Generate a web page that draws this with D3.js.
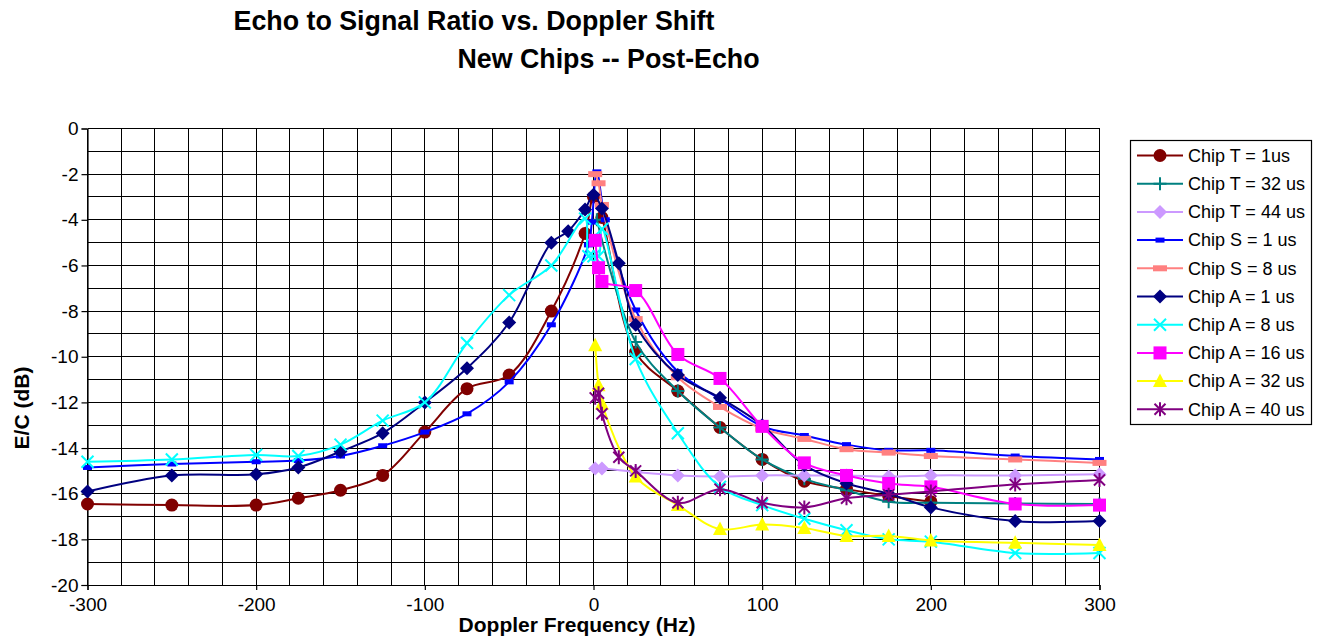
<!DOCTYPE html>
<html><head><meta charset="utf-8">
<script src="https://cdn.jsdelivr.net/npm/d3@7/dist/d3.min.js"></script>
<style>
body{margin:0;background:#fff}
svg{display:block}
text{font-family:"Liberation Sans",Arial,sans-serif}
</style>
</head><body>
<svg id="chart" width="1329" height="640"></svg>
<script>
// ---- data: [Doppler Hz, E/C dB] ----
const chipT1 = [[-300,-16.45],[-250,-16.5],[-200,-16.5],[-175,-16.2],[-150,-15.85],[-125,-15.2],[-100,-13.3],[-75,-11.4],[-50,-10.8],[-25,-8.0],[-5,-4.6],[0,-3.0],[5,-3.9],[25,-9.8],[50,-11.5],[75,-13.1],[100,-14.5],[125,-15.45],[150,-15.8],[175,-16.1],[200,-16.35]];
const chipT32 = [[2,-4.0],[25,-9.35],[50,-11.5],[75,-13.1],[100,-14.5],[125,-15.35],[150,-15.85],[175,-16.35],[200,-16.4],[250,-16.43],[300,-16.45]];
const chipT44 = [[1,-14.9],[5,-14.9],[25,-15.05],[50,-15.2],[75,-15.25],[100,-15.2],[125,-15.2],[150,-15.2],[175,-15.25],[200,-15.2],[250,-15.2],[300,-15.15]];
const chipS1 = [[-300,-14.85],[-250,-14.7],[-200,-14.6],[-175,-14.55],[-150,-14.35],[-125,-13.9],[-100,-13.3],[-75,-12.5],[-50,-11.1],[-25,-8.6],[-3,-5.1],[-1,-4.1],[2,-1.9],[7,-4.0],[25,-7.95],[50,-10.65],[75,-11.85],[100,-13.05],[125,-13.45],[150,-13.85],[175,-14.1],[200,-14.1],[250,-14.35],[300,-14.5]];
const chipS8 = [[1,-2.0],[3,-2.4],[5,-3.35],[25,-8.35],[50,-10.9],[75,-12.2],[100,-13.15],[125,-13.6],[150,-14.05],[175,-14.2],[200,-14.35],[250,-14.5],[300,-14.65]];
const chipA1 = [[-300,-15.9],[-250,-15.2],[-200,-15.15],[-175,-14.85],[-150,-14.15],[-125,-13.35],[-100,-12.0],[-75,-10.5],[-50,-8.5],[-25,-5.0],[-15,-4.5],[-5,-3.55],[0,-2.9],[5,-3.5],[15,-5.9],[25,-8.6],[50,-10.8],[75,-11.8],[100,-13.0],[125,-14.75],[150,-15.55],[175,-16.0],[200,-16.6],[250,-17.2],[300,-17.2]];
const chipA8 = [[-300,-14.6],[-250,-14.5],[-200,-14.3],[-175,-14.35],[-150,-13.85],[-125,-12.8],[-100,-12.0],[-75,-9.4],[-50,-7.3],[-25,-6.0],[-5,-3.95],[-3,-5.6],[0,-5.6],[3,-5.6],[5,-4.4],[25,-10.1],[50,-13.35],[75,-15.7],[100,-16.5],[125,-17.1],[150,-17.6],[175,-18.0],[200,-18.1],[250,-18.6],[300,-18.6]];
const chipA16 = [[1,-4.9],[3,-6.1],[5,-6.7],[25,-7.1],[50,-9.9],[75,-10.95],[100,-13.05],[125,-14.65],[150,-15.2],[175,-15.55],[200,-15.7],[250,-16.45],[300,-16.5]];
const chipA32 = [[1,-9.5],[3,-11.25],[5,-12.05],[25,-15.25],[50,-16.5],[75,-17.55],[100,-17.35],[125,-17.5],[150,-17.85],[175,-17.85],[200,-18.05],[250,-18.15],[300,-18.25]];
const chipA40 = [[1,-11.8],[3,-11.6],[5,-12.5],[15,-14.4],[25,-15.0],[50,-16.4],[75,-15.8],[100,-16.4],[125,-16.6],[150,-16.2],[175,-16.05],[200,-15.9],[250,-15.6],[300,-15.4]];

const seriesNames = ["Chip T = 1us","Chip T = 32 us","Chip T = 44 us","Chip S = 1 us","Chip S = 8 us","Chip A = 1 us","Chip A = 8 us","Chip A = 16 us","Chip A = 32 us","Chip A = 40 us"];
const seriesData = [chipT1, chipT32, chipT44, chipS1, chipS8, chipA1, chipA8, chipA16, chipA32, chipA40];
const xTickValues = [-300,-200,-100,0,100,200,300];
const yTickValues = [0,-2,-4,-6,-8,-10,-12,-14,-16,-18,-20];
const titleText = ["Echo to Signal Ratio vs. Doppler Shift","New Chips -- Post-Echo"];
const xTitle = "Doppler Frequency (Hz)";
const yTitle = "E/C (dB)";

// ---- styles ----
const styles = [
  {color:"#800000", marker:"circle"},
  {color:"#008080", marker:"plus"},
  {color:"#CC99FF", marker:"diamond"},
  {color:"#0000FF", marker:"dashS"},
  {color:"#FF8080", marker:"dashL"},
  {color:"#000080", marker:"diamond"},
  {color:"#00FFFF", marker:"x"},
  {color:"#FF00FF", marker:"square"},
  {color:"#FFFF00", marker:"triangle"},
  {color:"#800080", marker:"star"}
];

const svg = d3.select("#chart");
const x = d3.scaleLinear().domain([-300,300]).range([87.5,1099.5]);
const y = d3.scaleLinear().domain([-20,0]).range([585,128.5]);

// gridlines
const grid = svg.append("g").attr("stroke","#000").attr("stroke-width",1).attr("shape-rendering","crispEdges");
grid.selectAll("line.v").data(d3.range(-300,301,20)).join("line")
  .attr("x1",d=>x(d)).attr("x2",d=>x(d)).attr("y1",y(0)).attr("y2",y(-20));
grid.selectAll("line.h").data(d3.range(-20,1,1)).join("line")
  .attr("y1",d=>y(d)).attr("y2",d=>y(d)).attr("x1",x(-300)).attr("x2",x(300));

// axes
const fmt = d => String(d);
const yAxis = svg.append("g").attr("transform",`translate(${x(-300)},0)`)
  .call(d3.axisLeft(y).tickValues(yTickValues).tickFormat(fmt).tickSize(6).tickPadding(3));
const xAxis = svg.append("g").attr("transform",`translate(0,${y(-20)})`)
  .call(d3.axisBottom(x).tickValues(xTickValues).tickFormat(fmt).tickSize(5).tickPadding(8));
[xAxis,yAxis].forEach(a=>{
  a.select(".domain").attr("stroke","#000").attr("stroke-width",1.2);
  a.selectAll(".tick line").attr("stroke","#000").attr("stroke-width",1.2);
  a.selectAll(".tick text").attr("fill","#000").attr("font-size",19)
    .attr("font-family",'"Liberation Sans",Arial,sans-serif');
});

// series
const lineGen = d3.line().x(d=>x(d[0])).y(d=>y(d[1])).curve(d3.curveCatmullRom.alpha(0.5));
const plot = svg.append("g");

function drawMarker(g, type, color){
  switch(type){
    case "circle": g.append("circle").attr("r",6.5).attr("fill",color); break;
    case "plus": g.append("path").attr("d","M-6.5,0H6.5M0,-6.5V6.5").attr("stroke",color).attr("stroke-width",2); break;
    case "diamond": g.append("path").attr("d","M0,-7L7,0L0,7L-7,0Z").attr("fill",color); break;
    case "dashS": g.append("rect").attr("x",-4.5).attr("y",-2.5).attr("width",9).attr("height",5).attr("fill",color); break;
    case "dashL": g.append("rect").attr("x",-7).attr("y",-3).attr("width",14).attr("height",6).attr("fill",color); break;
    case "x": g.append("path").attr("d","M-6,-6L6,6M-6,6L6,-6").attr("stroke",color).attr("stroke-width",2); break;
    case "square": g.append("rect").attr("x",-6.5).attr("y",-6.5).attr("width",13).attr("height",13).attr("fill",color); break;
    case "triangle": g.append("path").attr("d","M0,-7.5L7,6L-7,6Z").attr("fill",color); break;
    case "star": g.append("path").attr("d","M-5.5,-5.5L5.5,5.5M-5.5,5.5L5.5,-5.5M0,-7V7").attr("stroke",color).attr("stroke-width",2); break;
  }
}

seriesData.forEach((data,i)=>{
  const st = styles[i];
  const g = plot.append("g");
  g.append("path").attr("d",lineGen(data)).attr("fill","none")
    .attr("stroke",st.color).attr("stroke-width",2);
  data.forEach(d=>{
    const m = g.append("g").attr("transform",`translate(${x(d[0])},${y(d[1])})`);
    drawMarker(m, st.marker, st.color);
  });
});

// titles
svg.append("text").attr("x",474).attr("y",30).attr("text-anchor","middle")
  .attr("font-size",26.8).attr("font-weight","bold").text(titleText[0]);
svg.append("text").attr("x",608.5).attr("y",68).attr("text-anchor","middle")
  .attr("font-size",26.8).attr("font-weight","bold").text(titleText[1]);
svg.append("text").attr("x",577).attr("y",632).attr("text-anchor","middle")
  .attr("font-size",21).attr("font-weight","bold").text(xTitle);
svg.append("text").attr("transform","translate(29,408) rotate(-90)").attr("text-anchor","middle")
  .attr("font-size",21).attr("font-weight","bold").text(yTitle);

// legend
const leg = svg.append("g");
leg.append("rect").attr("x",1130.5).attr("y",140.5).attr("width",181).attr("height",284)
  .attr("fill","#fff").attr("stroke","#000").attr("stroke-width",1.2);
seriesNames.forEach((name,i)=>{
  const yy = 155.5 + i*28.2;
  const st = styles[i];
  leg.append("line").attr("x1",1137).attr("x2",1183).attr("y1",yy).attr("y2",yy)
    .attr("stroke",st.color).attr("stroke-width",2);
  const m = leg.append("g").attr("transform",`translate(1160,${yy})`);
  drawMarker(m, st.marker, st.color);
  leg.append("text").attr("x",1188).attr("y",yy).attr("dy","0.35em")
    .attr("font-size",18).attr("fill","#000").text(name);
});
</script>
</body></html>
